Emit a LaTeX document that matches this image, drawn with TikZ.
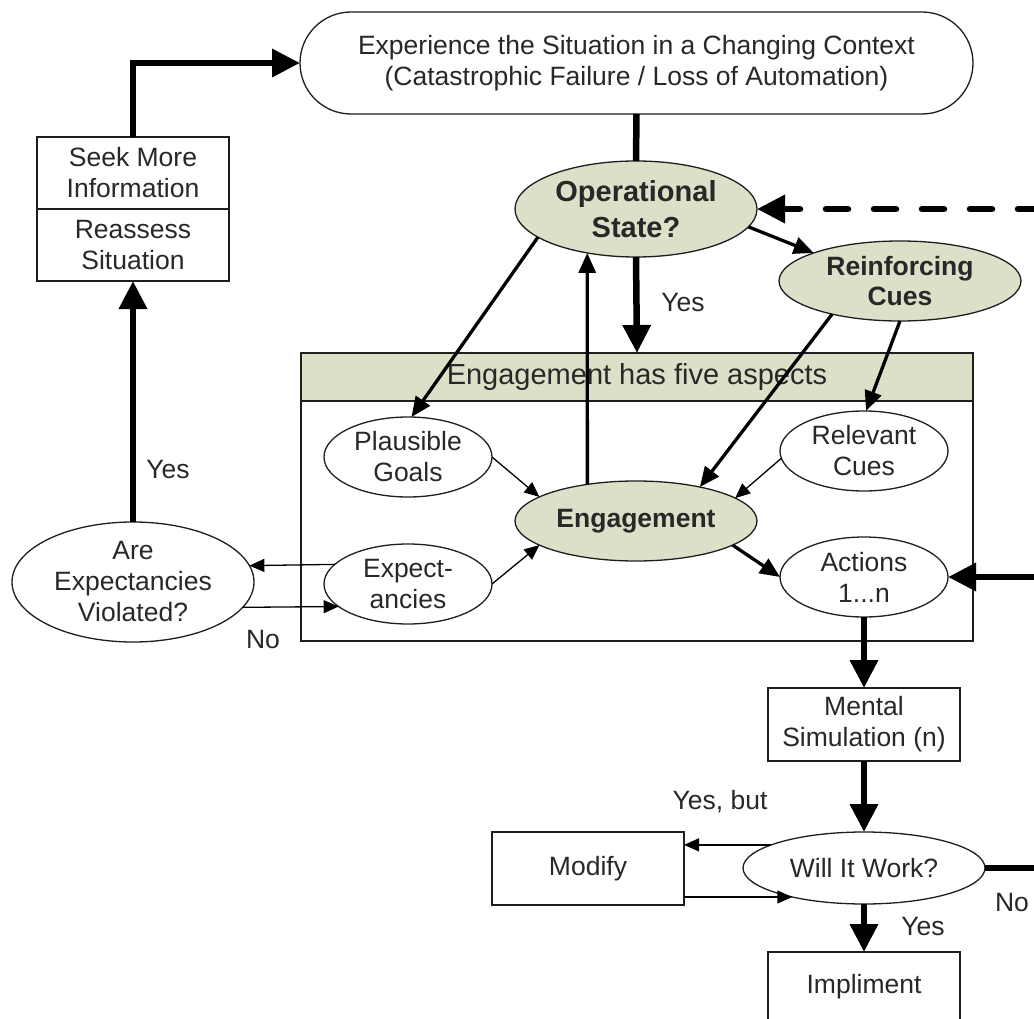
\documentclass[tikz,border=0pt]{standalone}
\usepackage{fontspec}
\setmainfont{Liberation Sans}
\usetikzlibrary{shapes.geometric,arrows.meta}
\definecolor{olivefill}{RGB}{221,224,201}
\definecolor{txtc}{RGB}{40,40,40}
\definecolor{linec}{RGB}{30,30,30}
\tikzset{
  base/.style={font=\fontsize{26.5}{31}\selectfont, text=txtc, align=center, inner sep=0pt, outer sep=0pt},
  ell/.style={base, ellipse, draw=linec, line width=1.3pt, fill=white},
  ellg/.style={ell, fill=olivefill},
  boldtxt/.style={font=\fontsize{26.5}{30}\bfseries\selectfont},
  boxn/.style={base, rectangle, draw=linec, line width=1.3pt, fill=white},
  lab/.style={font=\fontsize{26.5}{31}\selectfont, text=txtc, inner sep=0pt},
  conthick/.style={draw=black, line width=6.5pt, -{Triangle[length=28pt,width=27pt]}},
  conplain/.style={draw=black, line width=6.5pt},
  conmed/.style={draw=black, line width=3.3pt, -{Triangle[length=20pt,width=17pt]}},
  conthin/.style={draw=black, line width=1.3pt, -{Triangle[length=15pt,width=13pt]}},
}
\begin{document}
\begin{tikzpicture}[x=1pt,y=-1pt]
\clip (0,0) rectangle (1034,1019);
\fill[white] (0,0) rectangle (1034,1019);

% container
\node[boxn, minimum width=672pt, minimum height=240pt] (body) at (637,521) {};
\node[boxn, fill=olivefill, minimum width=672pt, minimum height=48pt, font=\fontsize{29}{34}\selectfont] (banner) at (637,377) {Engagement has five aspects};

% nodes
\node[boxn, rounded corners=51pt, minimum width=673pt, minimum height=102pt] (stad) at (636.5,63)
  {Experience the Situation in a Changing Context\\(Catastrophic Failure / Loss of Automation)};
\node[boxn, minimum width=192pt, minimum height=72pt] (seek) at (133,173) {Seek More\\Information};
\node[boxn, minimum width=192pt, minimum height=72pt] (reass) at (133,245) {Reassess\\Situation};
\node[ellg, minimum width=242pt, minimum height=96pt, font=\fontsize{29}{36}\bfseries\selectfont] (os) at (636,209) {Operational\\State?};
\node[ellg, boldtxt, minimum width=242pt, minimum height=80pt] (rc) at (900,281) {Reinforcing\\Cues};
\node[ell, minimum width=168pt, minimum height=80pt] (pg) at (408,457) {Plausible\\Goals};
\node[ell, minimum width=168pt, minimum height=80pt] (rel) at (864,451) {Relevant\\Cues};
\node[ellg, boldtxt, minimum width=242pt, minimum height=80pt] (eng) at (636,521) {Engagement};
\node[ell, minimum width=168pt, minimum height=80pt] (exp) at (408,584) {Expect-\\ancies};
\node[ell, minimum width=168pt, minimum height=80pt] (act) at (864,577) {Actions\\1...n};
\node[ell, minimum width=242pt, minimum height=120pt] (aev) at (133,582) {Are\\Expectancies\\Violated?};
\node[boxn, minimum width=192pt, minimum height=73pt] (ms) at (864,724.5) {Mental\\Simulation (n)};
\node[ell, minimum width=242pt, minimum height=72pt] (wiw) at (864,868) {Will It Work?};
\node[boxn, minimum width=192pt, minimum height=73pt] (mod) at (588,868.5) {Modify};
\node[boxn, minimum width=192pt, minimum height=70pt] (impl) at (864,987) {Impliment};

\coordinate (dashin) at (1040,209);
\coordinate (actin) at (1040,577);
\coordinate (wiwout) at (1040,868);

% connectors
\draw[conthick] (seek.north) |- (stad.west);
\draw[conplain] (stad.south) -- (os.north);
\draw[conthick, dash pattern=on 22pt off 26pt, line cap=round] (dashin) -- (os.east);
\draw[conmed] (os.351) -- (rc.162);
\draw[conthick] (os.south) -- (banner.north);
\draw[conmed] (os.196) -- (pg.85);
\draw[conmed] (eng.143) -- (os.222);
\draw[conmed] (rc.206) -- (eng.28);
\draw[conmed] (rc.south) -- (rel.87);
\draw[conthin] (rel.185) -- (eng.13.4);
\draw[conthin] (pg.east) -- (eng.166.6);
\draw[conthin] (exp.east) -- (eng.194.3);
\draw[conmed] (eng.346) -- (act.west);
\draw[conthick] (actin) -- (act.east);
\draw[conthin] (exp.165.6) -- (aev.8.3);
\draw[conthin] (aev.347.2) -- (exp.198.5);
\draw[conthick] (aev.north) -- (reass.south);
\draw[conthick] (act.south) -- (ms.north);
\draw[conthick] (ms.south) -- (wiw.north);
\draw[conthick] (wiw.south) -- (impl.north);
\draw[conplain] (wiw.east) -- (wiwout);
\draw[conthin] (wiw.166.1) -- (wiw.166.1 -| mod.east);
\draw[conthin] (wiw.202 -| mod.east) -- (wiw.202);

% labels
\node[lab] (l1) at (683,303) {Yes};
\node[lab] (l2) at (168,470) {Yes};
\node[lab] (l3) at (263,640) {No};
\node[lab] (l4) at (720,802) {Yes, but};
\node[lab] (l5) at (923,927) {Yes};
\node[lab] (l6) at (1012,903) {No};
\end{tikzpicture}
\end{document}
